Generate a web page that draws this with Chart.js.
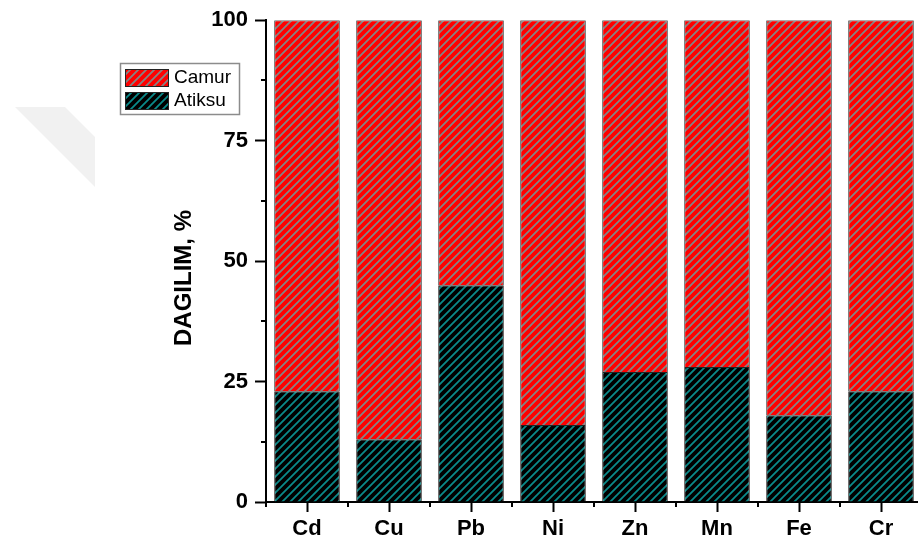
<!DOCTYPE html>
<html>
<head>
<meta charset="utf-8">
<script src="https://cdn.jsdelivr.net/npm/chart.js@4.4.0/dist/chart.umd.min.js"></script>
<style>
  html, body { margin: 0; padding: 0; background: #fff; overflow: hidden; width: 918px; height: 549px; }
  #wrap { position: relative; width: 940px; height: 549px; }
</style>
</head>
<body>
<div id="wrap"><canvas id="c" width="940" height="549"></canvas></div>
<script>
// Distribution of metals between sludge (Camur) and effluent (Atiksu), %
const metals = ['Cd', 'Cu', 'Pb', 'Ni', 'Zn', 'Mn', 'Fe', 'Cr'];
const atiksu = [23, 13, 45, 16, 27, 28, 18, 23];
const camur  = [77, 87, 55, 84, 73, 72, 82, 77];
const yTicks = [0, 25, 50, 75, 100];
const yMinorTicks = [12.5, 37.5, 62.5, 87.5];
const yTitle = 'DAGILIM, %';

const FONT = "'Liberation Sans', Arial, Helvetica, sans-serif";
const canvas = document.getElementById('c');
const ctx = canvas.getContext('2d');

// diagonal hatch fill
function hatch(bg, fg) {
  const s = 8;
  const t = document.createElement('canvas');
  t.width = s; t.height = s;
  const g = t.getContext('2d');
  g.fillStyle = bg;
  g.fillRect(0, 0, s, s);
  g.strokeStyle = fg;
  g.lineWidth = 1.8;
  g.beginPath();
  g.moveTo(-1, s + 1); g.lineTo(s + 1, -1);
  g.moveTo(-1, 1); g.lineTo(1, -1);
  g.moveTo(s - 1, s + 1); g.lineTo(s + 1, s - 1);
  g.stroke();
  return ctx.createPattern(t, 'repeat');
}

const atiksuFill = hatch('#000000', '#0a8a8a');
const camurFill = hatch('#ff0000', '#848484');

// faint background mark in the upper-left corner
const backdrop = {
  id: 'backdrop',
  beforeDraw(chart) {
    const c = chart.ctx;
    c.save();
    c.fillStyle = '#f1f1f1';
    c.beginPath();
    c.moveTo(15, 107);
    c.lineTo(65, 107);
    c.lineTo(95, 137);
    c.lineTo(95, 187);
    c.closePath();
    c.fill();
    c.restore();
  }
};

// minor ticks, axis title and boxed legend
const extras = {
  id: 'extras',
  afterDraw(chart) {
    const c = chart.ctx;
    const x = chart.scales.x, y = chart.scales.y;
    const area = chart.chartArea;
    c.save();
    c.strokeStyle = '#000';
    c.lineWidth = 2;
    c.beginPath();
    yMinorTicks.forEach(v => {
      const py = Math.round(y.getPixelForValue(v));
      c.moveTo(area.left - 5, py);
      c.lineTo(area.left, py);
    });
    for (let i = 0; i <= metals.length; i++) {
      let px;
      if (i === 0) px = area.left;
      else if (i === metals.length) px = area.right;
      else px = (x.getPixelForValue(i - 1) + x.getPixelForValue(i)) / 2;
      px = Math.round(px);
      c.moveTo(px, area.bottom);
      c.lineTo(px, area.bottom + 5);
    }
    c.stroke();

    // y axis title
    c.save();
    c.translate(184, 278);
    c.rotate(-Math.PI / 2);
    c.fillStyle = '#000';
    c.font = 'bold 24px ' + FONT;
    c.textAlign = 'center';
    c.textBaseline = 'middle';
    c.fillText(yTitle, 0, 0);
    c.restore();

    // legend
    c.strokeStyle = '#8c8c8c';
    c.lineWidth = 1.5;
    c.strokeRect(120.5, 63.5, 119, 51);
    const entries = chart.data.datasets.slice().reverse();
    entries.forEach((ds, k) => {
      const top = 69 + k * 23;
      c.fillStyle = ds.backgroundColor;
      c.fillRect(125, top, 43, 17);
      c.strokeStyle = '#222';
      c.lineWidth = 1;
      c.strokeRect(125.5, top + 0.5, 43, 17);
      c.fillStyle = '#000';
      c.font = '19px ' + FONT;
      c.textAlign = 'left';
      c.textBaseline = 'middle';
      c.fillText(ds.label, 174, top + 9);
    });
    c.restore();
  }
};

const tickFont = { family: FONT, size: 22, weight: 'bold' };

new Chart(ctx, {
  type: 'bar',
  data: {
    labels: metals,
    datasets: [
      { label: 'Atiksu', data: atiksu, backgroundColor: atiksuFill, borderColor: '#222', borderWidth: 1,
        categoryPercentage: 1, barPercentage: 0.8 },
      { label: 'Camur', data: camur, backgroundColor: camurFill, borderColor: '#3a3a3a', borderWidth: 1,
        categoryPercentage: 1, barPercentage: 0.8 }
    ]
  },
  options: {
    responsive: false,
    animation: false,
    layout: { padding: { left: 0, top: 19, right: 18, bottom: 0 } },
    plugins: { legend: { display: false }, tooltip: { enabled: false } },
    scales: {
      x: {
        stacked: true,
        grid: { display: true, drawOnChartArea: false, offset: false, tickLength: 10, tickWidth: 2, tickColor: '#000' },
        border: { color: '#000', width: 2 },
        ticks: { color: '#000', font: tickFont, padding: 4, maxRotation: 0 },
        afterFit(s) { s.height = 47; }
      },
      y: {
        stacked: true,
        min: 0,
        max: 100,
        afterBuildTicks(s) { s.ticks = yTicks.map(v => ({ value: v })); },
        grid: { display: true, drawOnChartArea: false, tickLength: 11, tickWidth: 2, tickColor: '#000' },
        border: { color: '#000', width: 2 },
        ticks: { color: '#000', font: tickFont, padding: 7 },
        afterFit(s) { s.width = 266; }
      }
    }
  },
  plugins: [backdrop, extras]
});
</script>
</body>
</html>
